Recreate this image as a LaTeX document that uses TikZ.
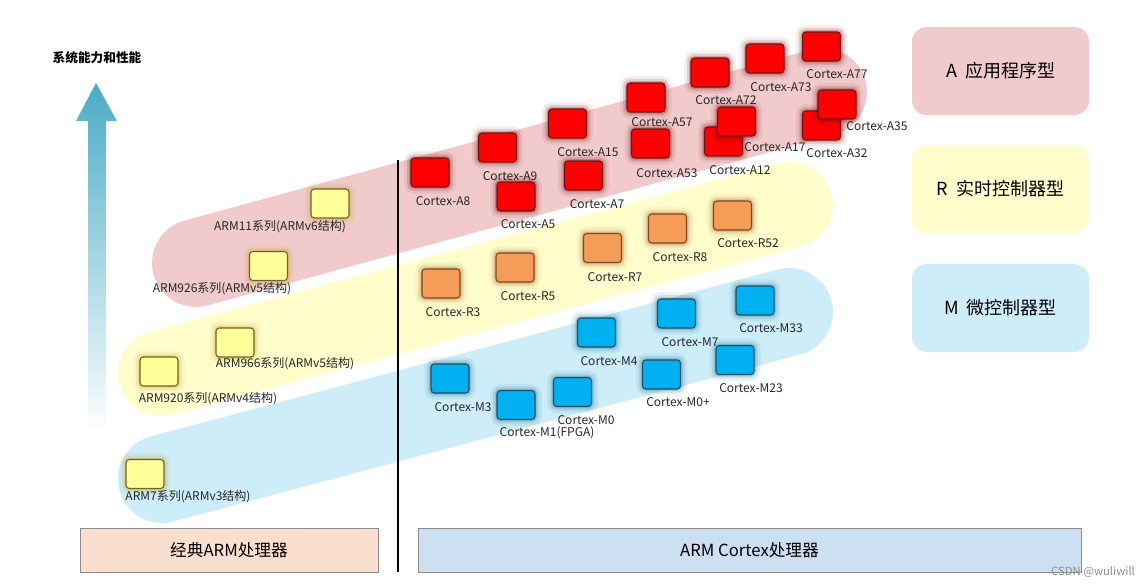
\documentclass[tikz,border=0pt]{standalone}
\usepackage{fontspec}
\setmainfont{Noto Sans CJK SC}
\begin{document}
\definecolor{bandA}{HTML}{F1CBCC}
\definecolor{bandR}{HTML}{FFFDCC}
\definecolor{bandM}{HTML}{CDEDF9}
\definecolor{cRed}{HTML}{FF0000}
\definecolor{cRedB}{HTML}{6A1515}
\definecolor{cRedG}{HTML}{800000}
\definecolor{cOr}{HTML}{F59D58}
\definecolor{cOrB}{HTML}{7A4A22}
\definecolor{cOrG}{HTML}{A85A1C}
\definecolor{cBl}{HTML}{00B0F0}
\definecolor{cBlB}{HTML}{1F4A66}
\definecolor{cBlG}{HTML}{1A6F90}
\definecolor{cYe}{HTML}{FFFF99}
\definecolor{cYeB}{HTML}{6A652A}
\definecolor{cYeG}{HTML}{D0A020}
\definecolor{arrowblue}{HTML}{4BACC6}
\definecolor{peach}{HTML}{FADFCF}
\definecolor{steel}{HTML}{CCE0F1}
\tikzset{
  chip/.style={rounded corners=2.5pt, minimum width=28.5pt, minimum height=21.75pt, inner sep=0pt, line width=0.8pt},
  glow/.style={preaction={draw=#1, fill=none, draw opacity=0.08, line width=10pt},
               preaction={draw=#1, fill=none, draw opacity=0.13, line width=6pt},
               preaction={draw=#1, fill=none, draw opacity=0.22, line width=3pt}},
  achip/.style={chip, fill=cRed, draw=cRedB, glow=cRedG},
  rchip/.style={chip, fill=cOr, draw=cOrB, glow=cOrG},
  mchip/.style={chip, fill=cBl, draw=cBlB, glow=cBlG},
  ychip/.style={chip, fill=cYe, draw=cYeB, glow=cYeG},
  lbl/.style={font=\fontsize{9}{10}\selectfont, inner sep=0pt, text=black!85},
  band/.style={line width=66pt, line cap=round},
  legend/.style={rounded corners=11pt, minimum width=132.75pt, minimum height=66pt, inner sep=0pt, font=\fontsize{13.5}{15}\selectfont},
  basebox/.style={draw=black!45, line width=0.75pt, minimum height=33pt, inner sep=0pt, font=\fontsize{12.5}{15}\selectfont},
}
\begin{tikzpicture}[x=0.75pt,y=-0.75pt]
\useasboundingbox (0,0) rectangle (1147,586);

% bands
\coordinate (pa1) at (196,263); \coordinate (pa2) at (823,92);
\coordinate (pr1) at (161,373); \coordinate (pr2) at (790,205);
\coordinate (pm1) at (162,479); \coordinate (pm2) at (789,312);
\draw[band, bandA] (pa1) -- (pa2);
\draw[band, bandR, line width=64.5pt] (pr1) -- (pr2);
\draw[band, bandM] (pm1) -- (pm2);

% performance arrow
\shade[top color=arrowblue, bottom color=white]
  (88,432) -- (88,121) -- (76,121) -- (96,83) -- (117,121) -- (106,121) -- (106,432) -- cycle;
\node[font=\bfseries\fontsize{9.5}{11}\selectfont, inner sep=0pt] (title) at (97,58) {系统能力和性能};

% divider
\coordinate (vt) at (398,160);
\coordinate (vb) at (398,572);
\draw[line width=1.1pt] (vt) -- (vb);

% legend
\node[legend, fill=bandA] (legA) at (1000.5,71) {A\ \ 应用程序型};
\node[legend, fill=bandR] (legR) at (1000.5,189) {R\ \ 实时控制器型};
\node[legend, fill=bandM] (legM) at (1000.5,308) {M\ \ 微控制器型};

% base boxes
\node[basebox, fill=peach, minimum width=223.5pt] (classic) at (229,550) {经典ARM处理器};
\node[basebox, fill=steel, minimum width=497.25pt] (cortex) at (749.5,550) {ARM\ Cortex处理器};

% classic ARM
\node[ychip] (arm11) at (330,203.5) {};
\node[lbl] (arm11l) at (280,227) {ARM11系列(ARMv6结构)};
\node[ychip] (arm926) at (268.5,266) {};
\node[lbl] (arm926l) at (222,289) {ARM926系列(ARMv5结构)};
\node[ychip] (arm966) at (235,342.5) {};
\node[lbl] (arm966l) at (285,364) {ARM966系列(ARMv5结构)};
\node[ychip] (arm920) at (159,371.5) {};
\node[lbl] (arm920l) at (208,399) {ARM920系列(ARMv4结构)};
\node[ychip] (arm7) at (145,474) {};
\node[lbl] (arm7l) at (188,497) {ARM7系列(ARMv3结构)};

% Cortex-A
\node[achip] (a8) at (430,172.5) {};
\node[lbl] (a8l) at (443,201) {Cortex-A8};
\node[achip] (a9) at (497.5,147.5) {};
\node[lbl] (a9l) at (510,176) {Cortex-A9};
\node[achip] (a5) at (516,196.5) {};
\node[lbl] (a5l) at (528,224) {Cortex-A5};
\node[achip] (a15) at (567.5,123.5) {};
\node[lbl] (a15l) at (588,152) {Cortex-A15};
\node[achip] (a7) at (583.5,175.5) {};
\node[lbl] (a7l) at (597,204) {Cortex-A7};
\node[achip] (a57) at (646,97.5) {};
\node[lbl] (a57l) at (662,122) {Cortex-A57};
\node[achip] (a53) at (650.5,143.5) {};
\node[lbl] (a53l) at (667,173) {Cortex-A53};
\node[achip] (a72) at (710,72.5) {};
\node[lbl] (a72l) at (726,100) {Cortex-A72};
\node[achip] (a73) at (765,58.5) {};
\node[lbl] (a73l) at (781,87) {Cortex-A73};
\node[achip] (a77) at (821.5,46.5) {};
\node[lbl] (a77l) at (837,74) {Cortex-A77};
\node[achip] (a12) at (723.5,141.5) {};
\node[lbl] (a12l) at (740,170) {Cortex-A12};
\node[achip] (a17) at (736.5,121.5) {};
\node[lbl] (a17l) at (775,147) {Cortex-A17};
\node[achip] (a32) at (821.5,125.5) {};
\node[lbl] (a32l) at (837,153) {Cortex-A32};
\node[achip] (a35) at (837,104.5) {};
\node[lbl] (a35l) at (877,126) {Cortex-A35};

% Cortex-R
\node[rchip] (r3) at (441,283.5) {};
\node[lbl] (r3l) at (453,312) {Cortex-R3};
\node[rchip] (r5) at (515,267.5) {};
\node[lbl] (r5l) at (528,296) {Cortex-R5};
\node[rchip] (r7) at (602.5,248) {};
\node[lbl] (r7l) at (615,277) {Cortex-R7};
\node[rchip] (r8) at (667.5,228.5) {};
\node[lbl] (r8l) at (680,257) {Cortex-R8};
\node[rchip] (r52) at (732.5,215.5) {};
\node[lbl] (r52l) at (748,243) {Cortex-R52};

% Cortex-M
\node[mchip] (m3) at (450,378.5) {};
\node[lbl] (m3l) at (463,407) {Cortex-M3};
\node[mchip] (m1) at (516,405) {};
\node[lbl] (m1l) at (547,433) {Cortex-M1(FPGA)};
\node[mchip] (m0) at (572.5,392) {};
\node[lbl] (m0l) at (586,420) {Cortex-M0};
\node[mchip] (m4) at (596.5,332.5) {};
\node[lbl] (m4l) at (609,361) {Cortex-M4};
\node[mchip] (m7) at (676.5,313.5) {};
\node[lbl] (m7l) at (690,342) {Cortex-M7};
\node[mchip] (m0p) at (661.5,374.5) {};
\node[lbl] (m0pl) at (678,402) {Cortex-M0+};
\node[mchip] (m33) at (755,300.5) {};
\node[lbl] (m33l) at (771,328) {Cortex-M33};
\node[mchip] (m23) at (735,360) {};
\node[lbl] (m23l) at (751,388) {Cortex-M23};

% watermark
\node[font=\fontsize{8.5}{10}\selectfont, text=black!45, inner sep=0pt] (wm) at (1093,572) {CSDN @wuliwill};
\end{tikzpicture}
\end{document}
